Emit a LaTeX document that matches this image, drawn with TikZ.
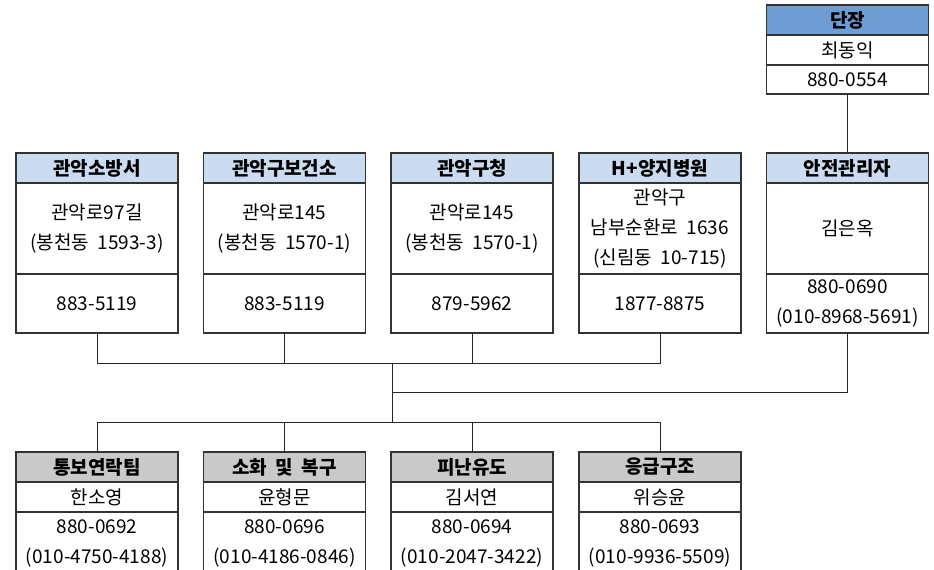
\documentclass[tikz,border=0pt]{standalone}
\usepackage{fontspec}
\setmainfont{Noto Sans CJK KR}
\usetikzlibrary{positioning}
\definecolor{chiefblue}{HTML}{6F9DD3}
\definecolor{unitblue}{HTML}{CCDCF0}
\definecolor{teamgray}{HTML}{C9C9C9}

\begin{document}
\begin{tikzpicture}[x=1pt,y=-1pt,
    cell/.style={draw=black!80,line width=1.2pt,minimum width=162pt,inner sep=0pt,outer sep=0pt,
                 align=center,font=\fontsize{19pt}{30pt}\selectfont},
    head/.style={cell,minimum height=30pt,font=\fontsize{19pt}{30pt}\selectfont\bfseries},
    link/.style={draw=black!85,line width=1pt}]
        \useasboundingbox (0,0) rectangle (934,570);

        % chief
        \node[head,fill=chiefblue] (chief) at (847.5,20) {단장};
        \node[cell,minimum height=30pt,below=0pt of chief] (chiefname) {최동익};
        \node[cell,minimum height=29pt,below=0pt of chiefname] (chieftel) {880-0554};

        % outside units
        \node[head,fill=unitblue] (fire) at (97,168) {관악소방서};
        \node[cell,minimum height=91pt,below=0pt of fire] (fireaddr) {관악로97길\\(봉천동~~1593-3)};
        \node[cell,minimum height=59pt,below=0pt of fireaddr] (firetel) {883-5119};

        \node[head,fill=unitblue] (health) at (284.5,168) {관악구보건소};
        \node[cell,minimum height=91pt,below=0pt of health] (healthaddr) {관악로145\\(봉천동~~1570-1)};
        \node[cell,minimum height=59pt,below=0pt of healthaddr] (healthtel) {883-5119};

        \node[head,fill=unitblue] (office) at (472,168) {관악구청};
        \node[cell,minimum height=91pt,below=0pt of office] (officeaddr) {관악로145\\(봉천동~~1570-1)};
        \node[cell,minimum height=59pt,below=0pt of officeaddr] (officetel) {879-5962};

        \node[head,fill=unitblue] (hospital) at (660,168) {H+양지병원};
        \node[cell,minimum height=91pt,below=0pt of hospital] (hospitaladdr) {관악구\\남부순환로~~1636\\(신림동~~10-715)};
        \node[cell,minimum height=59pt,below=0pt of hospitaladdr] (hospitaltel) {1877-8875};

        \node[head,fill=unitblue] (safe) at (847.5,168) {안전관리자};
        \node[cell,minimum height=91pt,below=0pt of safe] (safename) {김은옥};
        \node[cell,minimum height=59pt,below=0pt of safename] (safetel) {880-0690\\(010-8968-5691)};

        % teams
        \node[head,fill=teamgray] (notice) at (97,467) {통보연락팀};
        \node[cell,minimum height=30pt,below=0pt of notice] (noticename) {한소영};
        \node[cell,minimum height=62pt,below=0pt of noticename] (noticetel) {880-0692\\(010-4750-4188)};

        \node[head,fill=teamgray] (repair) at (284.5,467) {소화~~및~~복구};
        \node[cell,minimum height=30pt,below=0pt of repair] (repairname) {윤형문};
        \node[cell,minimum height=62pt,below=0pt of repairname] (repairtel) {880-0696\\(010-4186-0846)};

        \node[head,fill=teamgray] (evac) at (472,467) {피난유도};
        \node[cell,minimum height=30pt,below=0pt of evac] (evacname) {김서연};
        \node[cell,minimum height=62pt,below=0pt of evacname] (evactel) {880-0694\\(010-2047-3422)};

        \node[head,fill=teamgray] (aid) at (660,467) {응급구조};
        \node[cell,minimum height=30pt,below=0pt of aid] (aidname) {위승윤};
        \node[cell,minimum height=62pt,below=0pt of aidname] (aidtel) {880-0693\\(010-9936-5509)};

        \coordinate (upbus) at (392,363);
        \coordinate (safebus) at (392,392);
        \coordinate (downbus) at (392,422);

        \draw[link] (chieftel) -- (safe);
        \foreach \u in {firetel,healthtel,officetel,hospitaltel}
            \draw[link] (\u.south) |- (upbus);
        \draw[link] (safetel.south) |- (safebus);
        \draw[link] (upbus) -- (downbus);
        \foreach \t in {notice,repair,evac,aid}
            \draw[link] (downbus) -| (\t.north);
\end{tikzpicture}
\end{document}
